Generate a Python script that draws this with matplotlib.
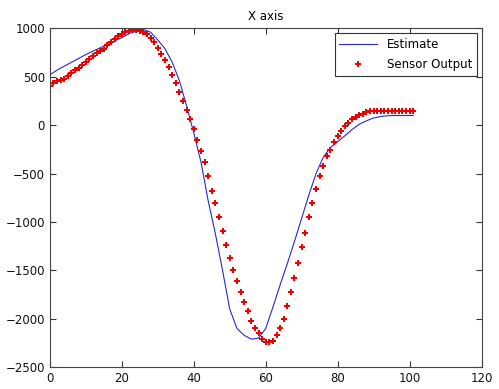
import numpy as np
import matplotlib
matplotlib.use("Agg")
import matplotlib.pyplot as plt

# sensor output, one sample per step
sensor_x = list(range(0, 102))
sensor_y = [410, 437, 455, 465, 479, 507, 541, 569, 593, 620,
            651, 679, 713, 741, 765, 789, 824, 858, 886, 920,
            944, 962, 972, 979, 980, 978, 965, 940, 905, 860,
            800, 740, 670, 600, 520, 437, 344, 248, 162, 59,
            -44, -148, -262, -383, -527, -679, -803, -948, -1096, -1238,
            -1368, -1492, -1606, -1720, -1823, -1923, -2027, -2096, -2148, -2210,
            -2241, -2241, -2227, -2165, -2096, -2003, -1872, -1720, -1579, -1424,
            -1258, -1113, -951, -803, -662, -527, -421, -317, -251, -176,
            -114, -55, -10, 24, 59, 83, 103, 117, 137, 145,
            150, 150, 150, 150, 150, 150, 150, 150, 150, 150,
            150, 150]

# estimate
est_x = [0, 2, 4, 6, 8, 10, 12, 14, 16, 18, 20, 22, 24, 26, 28, 30, 32, 34, 36, 38,
         40, 42, 44, 46, 48, 50, 52, 54, 56, 58, 60, 62, 64, 66, 68, 70, 72, 74, 76, 78,
         80, 82, 84, 86, 88, 90, 92, 94, 96, 98, 100, 101]
est_y = [520, 570, 610, 650, 690, 730, 765, 800, 835, 870, 905, 945, 980, 990, 960, 880,
         790, 650, 460, 200, -80, -380, -780, -1120, -1500, -1900, -2100, -2170, -2210, -2200,
         -2100, -1880, -1650, -1430, -1200, -960, -720, -500, -330, -230, -170, -110, -45,
         10, 45, 75, 90, 98, 100, 100, 100, 100]

fig = plt.figure(figsize=(4.99, 3.89), dpi=100)
ax = fig.add_axes([0.100, 0.056, 0.865, 0.871])

ax.plot(est_x, est_y, color='#2828d8', lw=0.8, label='Estimate')
ax.plot(sensor_x, sensor_y, ls='none', marker='P', ms=3.8, color='#ee0000',
        mew=0, label='Sensor Output')

ax.set_xlim(0, 120)
ax.set_ylim(-2500, 1000)
ax.set_xticks(np.arange(0, 121, 20))
ax.set_yticks(np.arange(-2500, 1001, 500))
ax.tick_params(direction='in', top=True, right=True, length=4, labelsize=8.5,
               colors='#333333', labelcolor='#111111')
for s in ax.spines.values():
    s.set_color('#444444')
ax.set_title('X axis', fontsize=8.5, pad=6)

leg = ax.legend(loc='upper right', fontsize=8.5, fancybox=False, framealpha=1,
                edgecolor='#333333', borderaxespad=0.4, handlelength=3.2,
                numpoints=1, labelspacing=0.6)
leg.get_frame().set_linewidth(0.8)

fig.savefig('out.png', dpi=100)
